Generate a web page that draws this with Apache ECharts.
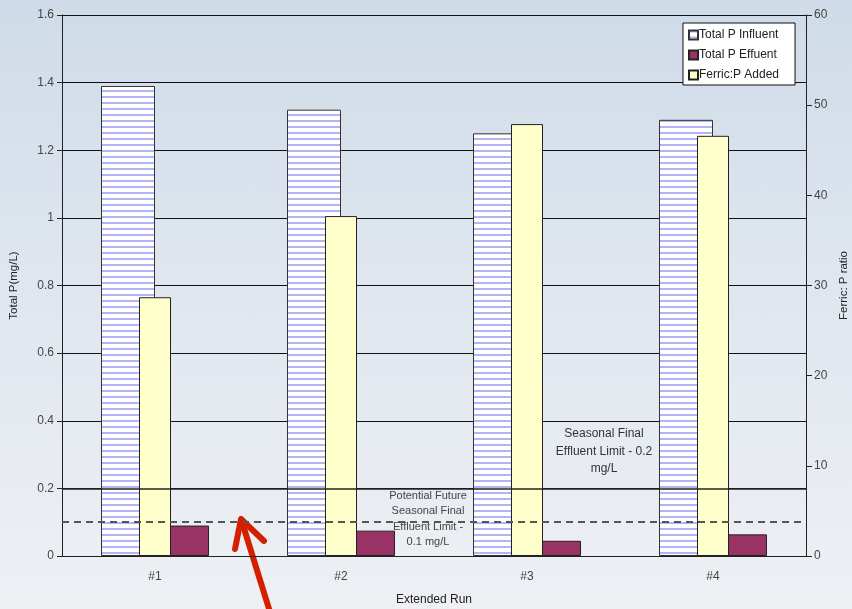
<!DOCTYPE html>
<html>
<head>
<meta charset="utf-8">
<script src="https://cdn.jsdelivr.net/npm/echarts@6/dist/echarts.min.js"></script>
<style>
  html, body { margin: 0; padding: 0; }
  body { background: linear-gradient(180deg, #cfdbe8 0%, #dfe6ef 45%, #eef0f4 100%); }
  #chart { width: 852px; height: 609px; }
</style>
</head>
<body>
<div id="chart"></div>
<script>
// data
const runs = ['#1', '#2', '#3', '#4'];
const influentP = [1.39, 1.32, 1.25, 1.29];
const effluentP = [0.09, 0.075, 0.045, 0.064];
const ferricRatio = [28.7, 37.7, 47.9, 46.6];
const limitNow = 0.2;
const limitFuture = 0.1;

// horizontal stripe fill for the influent bars
const stripe = document.createElement('canvas');
stripe.width = 6;
stripe.height = 6;
const sctx = stripe.getContext('2d');
sctx.fillStyle = '#ffffff';
sctx.fillRect(0, 0, 6, 6);
sctx.fillStyle = '#b3b3f7';
sctx.fillRect(0, 0, 6, 2);

const font = 'Liberation Sans, Arial, sans-serif';
const labelStyle = { color: '#444', fontSize: 12, fontFamily: font };

const chart = echarts.init(document.getElementById('chart'));
chart.setOption({
    animation: false,
    textStyle: { fontFamily: font },
    grid: { left: 62, right: 46, top: 15, bottom: 53, outerBoundsMode: 'none' },
    legend: {
        orient: 'vertical',
        left: 683,
        top: 23,
        backgroundColor: '#ffffff',
        borderColor: '#111',
        borderWidth: 1,
        borderRadius: 0,
        padding: [6, 16, 4, 5],
        itemWidth: 9,
        itemHeight: 9,
        itemGap: 8,
        icon: 'rect',
        textStyle: { color: '#222', fontSize: 12, fontFamily: font, padding: [0, 0, 0, -4] },
        data: ['Total P Influent', 'Total P Effuent', 'Ferric:P Added']
    },
    xAxis: [{
        type: 'category',
        data: runs,
        axisLine: { lineStyle: { color: '#222', width: 1 } },
        axisTick: { length: 4, lineStyle: { color: '#222' } },
        axisLabel: Object.assign({ margin: 15 }, labelStyle),
        name: 'Extended Run',
        nameLocation: 'middle',
        nameGap: 38,
        nameTextStyle: { color: '#222', fontSize: 12, fontFamily: font }
    }, {
        type: 'category',
        data: runs,
        show: false
    }],
    yAxis: [{
        type: 'value',
        min: 0,
        max: 1.6,
        interval: 0.2,
        axisLine: { show: true, lineStyle: { color: '#222', width: 1 } },
        axisTick: { show: true, length: 5, lineStyle: { color: '#222' } },
        axisLabel: Object.assign({ margin: 8 }, labelStyle),
        splitLine: { lineStyle: { color: '#111', width: 1 } },
        name: 'Total P(mg/L)',
        nameLocation: 'middle',
        nameGap: 42,
        nameTextStyle: { color: '#222', fontSize: 11.5, fontFamily: font }
    }, {
        type: 'value',
        min: 0,
        max: 60,
        interval: 10,
        position: 'right',
        axisLine: { show: true, lineStyle: { color: '#222', width: 1 } },
        axisTick: { show: true, length: 6, lineStyle: { color: '#222' } },
        axisLabel: Object.assign({ margin: 8 }, labelStyle),
        splitLine: { show: false },
        name: 'Ferric: P ratio',
        nameLocation: 'middle',
        nameRotate: 90,
        nameGap: 30,
        nameTextStyle: { color: '#222', fontSize: 11.5, fontFamily: font }
    }],
    series: [{
        name: 'Total P Influent',
        type: 'bar',
        xAxisIndex: 0,
        yAxisIndex: 0,
        data: influentP,
        barWidth: 54,
        barGap: '0%',
        itemStyle: {
            color: { image: stripe, repeat: 'repeat' },
            borderColor: '#333',
            borderWidth: 1
        },
        markLine: {
            silent: true,
            symbol: 'none',
            label: { show: false },
            data: [
                { yAxis: limitNow, lineStyle: { color: '#222', width: 1.5, type: 'solid' } },
                { yAxis: limitFuture, lineStyle: { color: '#555', width: 2, type: [7, 5] } }
            ]
        }
    }, {
        name: 'Total P Effuent',
        type: 'bar',
        xAxisIndex: 0,
        yAxisIndex: 0,
        data: effluentP,
        barWidth: 54,
        barGap: '0%',
        itemStyle: { color: '#993366', borderColor: '#222', borderWidth: 1 }
    }, {
        name: 'Ferric:P Added',
        type: 'bar',
        xAxisIndex: 1,
        yAxisIndex: 1,
        data: ferricRatio,
        barWidth: 32,
        itemStyle: { color: '#ffffcc', borderColor: '#222', borderWidth: 1 }
    }],
    graphic: [{
        type: 'text',
        x: 604,
        y: 425,
        style: {
            text: 'Seasonal Final\nEffluent Limit - 0.2\nmg/L',
            fill: '#333',
            font: '12px ' + font,
            align: 'center',
            verticalAlign: 'top',
            lineHeight: 17.5
        }
    }, {
        type: 'text',
        x: 428,
        y: 488,
        style: {
            text: 'Potential Future\nSeasonal Final\nEffluent Limit -\n0.1 mg/L',
            fill: '#444',
            font: '11px ' + font,
            align: 'center',
            verticalAlign: 'top',
            lineHeight: 15.5
        }
    }, {
        type: 'group',
        z: 100,
        children: [{
            type: 'line',
            shape: { x1: 270, y1: 612, x2: 242, y2: 522 },
            style: { stroke: '#d42000', lineWidth: 6, lineCap: 'round' }
        }, {
            type: 'polyline',
            shape: { points: [[235, 549], [241, 519], [264, 541]] },
            style: { stroke: '#d42000', lineWidth: 6, lineCap: 'round', lineJoin: 'round', fill: 'none' }
        }]
    }]
});
</script>
</body>
</html>
